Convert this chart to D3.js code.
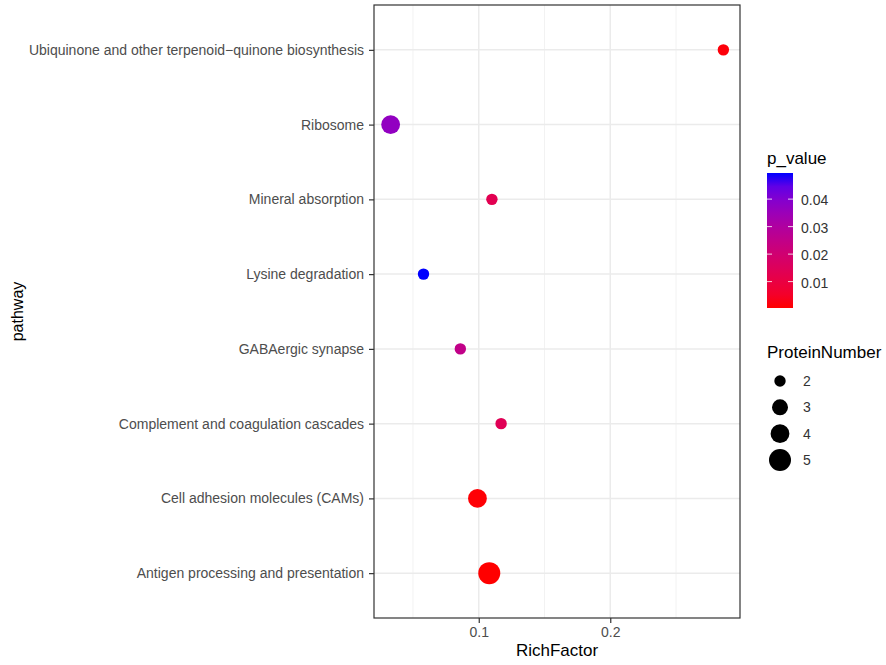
<!DOCTYPE html>
<html>
<head>
<meta charset="utf-8">
<script src="https://cdn.jsdelivr.net/npm/d3@7"></script>
<style>
  body { margin: 0; background: #fff; }
  text { font-family: "Liberation Sans", Arial, sans-serif; }
</style>
</head>
<body>
<script>
// pathways, top to bottom as drawn
const pathways = [
    "Ubiquinone and other terpenoid\u2212quinone biosynthesis",
    "Ribosome",
    "Mineral absorption",
    "Lysine degradation",
    "GABAergic synapse",
    "Complement and coagulation cascades",
    "Cell adhesion molecules (CAMs)",
    "Antigen processing and presentation"
];
const richFactor = [0.286, 0.033, 0.110, 0.058, 0.086, 0.117, 0.099, 0.108];
const pValue = [0.0012, 0.037, 0.013, 0.0495, 0.025, 0.014, 0.0008, 0.0004];
const proteinNumber = [2, 4, 2, 2, 2, 2, 4, 5];

const xTicks = [0.1, 0.2];
const pTicks = [0.01, 0.02, 0.03, 0.04];
const sizeTicks = [2, 3, 4, 5];

const width = 886, height = 665;
const panel = { left: 374, right: 740, top: 5, bottom: 618 };

const svg = d3.select("body")
    .append("svg")
    .attr("width", width)
    .attr("height", height);

// x scale with 5% padding like ggplot
const xMin = d3.min(richFactor), xMax = d3.max(richFactor);
const pad = (xMax - xMin) * 0.05;
const x = d3.scaleLinear()
    .domain([xMin - pad, xMax + pad])
    .range([panel.left, panel.right]);

// discrete y with 0.6 expansion
const step = (panel.bottom - panel.top) / (pathways.length - 1 + 1.2);
const y = d3.scalePoint()
    .domain(pathways)
    .range([panel.top + 0.6 * step, panel.bottom - 0.6 * step]);

const color = d3.scaleLinear()
    .domain(d3.extent(pValue))
    .range(["red", "blue"])
    .interpolate(d3.interpolateLab);

const radius = d3.scaleLinear()
    .domain(sizeTicks)
    .range([5.7, 8, 9.4, 11]);

// grid lines
const minorX = [0.05, 0.15, 0.25];
svg.append("g").selectAll("line")
    .data(minorX)
    .join("line")
    .attr("x1", d => x(d)).attr("x2", d => x(d))
    .attr("y1", panel.top).attr("y2", panel.bottom)
    .attr("stroke", "#f2f2f2").attr("stroke-width", 1);
svg.append("g").selectAll("line")
    .data(xTicks)
    .join("line")
    .attr("x1", d => x(d)).attr("x2", d => x(d))
    .attr("y1", panel.top).attr("y2", panel.bottom)
    .attr("stroke", "#ebebeb").attr("stroke-width", 1.5);
svg.append("g").selectAll("line")
    .data(pathways)
    .join("line")
    .attr("x1", panel.left).attr("x2", panel.right)
    .attr("y1", d => y(d)).attr("y2", d => y(d))
    .attr("stroke", "#ebebeb").attr("stroke-width", 1.5);

// points
svg.append("g").selectAll("circle")
    .data(pathways)
    .join("circle")
    .attr("cx", (d, i) => x(richFactor[i]))
    .attr("cy", d => y(d))
    .attr("r", (d, i) => radius(proteinNumber[i]))
    .attr("fill", (d, i) => color(pValue[i]));

// panel border
svg.append("rect")
    .attr("x", panel.left).attr("y", panel.top)
    .attr("width", panel.right - panel.left)
    .attr("height", panel.bottom - panel.top)
    .attr("fill", "none")
    .attr("stroke", "#333").attr("stroke-width", 1.2);

// axes
const xAxis = svg.append("g")
    .attr("transform", `translate(0,${panel.bottom})`)
    .call(d3.axisBottom(x).tickValues(xTicks).tickFormat(d3.format(".1f")).tickSize(5).tickPadding(4));
const yAxis = svg.append("g")
    .attr("transform", `translate(${panel.left},0)`)
    .call(d3.axisLeft(y).tickSize(5).tickPadding(5));
[xAxis, yAxis].forEach(a => {
    a.select(".domain").remove();
    a.selectAll(".tick line").attr("stroke", "#333").attr("stroke-width", 1.2);
    a.selectAll(".tick text")
        .attr("fill", "#4d4d4d")
        .style("font-size", "14px")
        .style("font-family", "Liberation Sans, Arial, sans-serif");
});

// axis titles
svg.append("text")
    .attr("x", (panel.left + panel.right) / 2)
    .attr("y", 656)
    .attr("text-anchor", "middle")
    .style("font-size", "17px")
    .text("RichFactor");
svg.append("text")
    .attr("transform", `translate(23,${(panel.top + panel.bottom) / 2}) rotate(-90)`)
    .attr("text-anchor", "middle")
    .style("font-size", "16px")
    .text("pathway");

// colour legend
const bar = { x: 767, y: 173, w: 26, h: 135 };
svg.append("text")
    .attr("x", 767).attr("y", 164)
    .style("font-size", "17px")
    .text("p_value");
const defs = svg.append("defs");
const grad = defs.append("linearGradient")
    .attr("id", "pgrad")
    .attr("x1", 0).attr("y1", 1).attr("x2", 0).attr("y2", 0);
d3.range(0, 1.0001, 0.1).forEach(t => {
    grad.append("stop")
        .attr("offset", t)
        .attr("stop-color", d3.interpolateLab("red", "blue")(t));
});
svg.append("rect")
    .attr("x", bar.x).attr("y", bar.y)
    .attr("width", bar.w).attr("height", bar.h)
    .attr("fill", "url(#pgrad)");
const pScale = d3.scaleLinear()
    .domain(d3.extent(pValue))
    .range([bar.y + bar.h, bar.y]);
const pt = svg.append("g").selectAll("g")
    .data(pTicks)
    .join("g");
pt.append("line")
    .attr("x1", bar.x).attr("x2", bar.x + 5)
    .attr("y1", d => pScale(d)).attr("y2", d => pScale(d))
    .attr("stroke", "#fff").attr("stroke-opacity", 0.8);
pt.append("line")
    .attr("x1", bar.x + bar.w - 5).attr("x2", bar.x + bar.w)
    .attr("y1", d => pScale(d)).attr("y2", d => pScale(d))
    .attr("stroke", "#fff").attr("stroke-opacity", 0.8);
pt.append("text")
    .attr("x", bar.x + bar.w + 8)
    .attr("y", d => pScale(d) + 1)
    .attr("dy", "0.35em")
    .attr("fill", "#333")
    .style("font-size", "14px")
    .text(d => d3.format(".2f")(d));

// size legend
svg.append("text")
    .attr("x", 767).attr("y", 358)
    .style("font-size", "17px")
    .text("ProteinNumber");
const sizeY = d3.scalePoint()
    .domain(sizeTicks)
    .range([381, 460]);
const sg = svg.append("g").selectAll("g")
    .data(sizeTicks)
    .join("g");
sg.append("circle")
    .attr("cx", 780)
    .attr("cy", d => sizeY(d))
    .attr("r", d => radius(d))
    .attr("fill", "#000");
sg.append("text")
    .attr("x", 803)
    .attr("y", d => sizeY(d))
    .attr("dy", "0.35em")
    .attr("fill", "#333")
    .style("font-size", "14px")
    .text(d => d);
</script>
</body>
</html>
